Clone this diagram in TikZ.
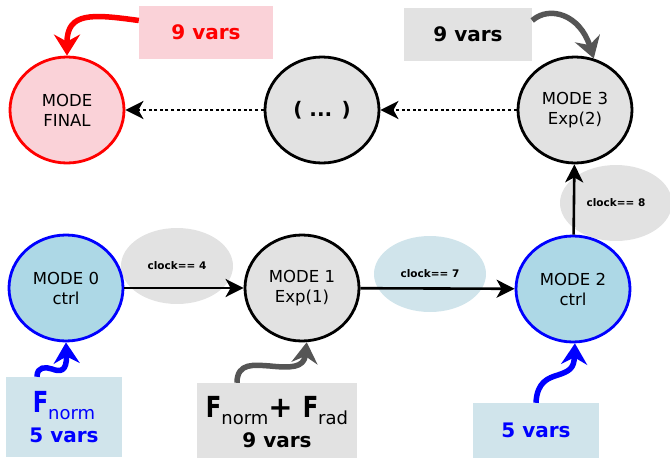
\documentclass[tikz,border=0pt]{standalone}
\usepackage{graphicx}
\usepackage{fontspec}
\setmainfont{DejaVu Sans}
\usetikzlibrary{arrows.meta,shapes.geometric}

\definecolor{ctrlblue}{RGB}{173,216,230}
\definecolor{paleblue}{RGB}{208,228,235}
\definecolor{modegray}{RGB}{226,226,226}
\definecolor{finalpink}{RGB}{250,210,216}
\definecolor{feedgray}{RGB}{85,85,85}

% F con subindice
\newcommand{\Fvar}[1]{{\fontsize{29}{29}\selectfont\scalebox{0.78}[1]{F}}\raisebox{-7pt}{\fontsize{18}{18}\selectfont\mdseries #1}}

\begin{document}
\begin{tikzpicture}[x=1pt, y=-1pt, line join=round]
  \useasboundingbox (0,0) rectangle (670,458);

  % Estilos
  \tikzset{
    mode/.style={ellipse, draw=black, fill=modegray, line width=2.8pt,
      minimum width=114pt, minimum height=106pt, inner sep=0pt,
      align=center, font=\fontsize{16.5}{20}\selectfont},
    modectrl/.style={mode, draw=blue, fill=ctrlblue},
    modefinal/.style={mode, draw=red, fill=finalpink},
    guard/.style={ellipse, minimum width=112pt, minimum height=76pt,
      inner sep=0pt, font=\bfseries\fontsize{10.5}{12}\selectfont},
    varsbox/.style={rectangle, inner sep=0pt, align=center,
      font=\bfseries\fontsize{20}{30}\selectfont},
    trans/.style={line width=2.6pt, -{Stealth[length=18pt,width=18pt,inset=5pt]}},
    skip/.style={trans, dash pattern=on 3pt off 2.6pt},
    feed/.style={line width=5.5pt, -{Stealth[length=21pt,width=26pt,inset=7pt]}}
  }

  % Guardas de las transiciones
  \node[guard, fill=modegray] (g4) at (177,266) {clock== 4};
  \node[guard, fill=paleblue] (g7) at (430,274) {clock== 7};
  \node[guard, fill=modegray] (g8) at (616,203) {clock== 8};

  % Modos
  \node[modectrl] (m0) at (66,288) {MODE 0\\ctrl};
  \node[mode] (m1) at (302,288) {MODE 1\\Exp(1)};
  \node[modectrl] (m2) at (573,289) {MODE 2\\ctrl};
  \node[mode] (m3) at (575,110) {MODE 3\\Exp(2)};
  \node[mode, font=\bfseries\fontsize{20}{24}\selectfont] (dots) at (322,110) {( ... )};
  \node[modefinal] (mf) at (67,110) {MODE\\FINAL};

  % Cajas de variables
  \node[varsbox, fill=finalpink, text=red, minimum width=134pt, minimum height=53pt] (v9red) at (206,32.5) {9 vars};
  \node[varsbox, fill=modegray, minimum width=128pt, minimum height=53pt] (v9gray) at (468,34.5) {9 vars};
  \node[varsbox, fill=paleblue, text=blue, minimum width=116pt, minimum height=80pt] (v5left) at (64,417) {\Fvar{norm}\\5 vars};
  \node[varsbox, fill=modegray, minimum width=160pt, minimum height=78pt] (v9low) at (277,422) {\Fvar{norm}{\fontsize{29}{29}\selectfont+ }\Fvar{rad}\\9 vars};
  \node[varsbox, fill=paleblue, text=blue, minimum width=126pt, minimum height=55pt] (v5right) at (536,430.5) {5 vars};

  % Transiciones
  \draw[trans] (m0) -- (m1);
  \draw[trans] (m1) -- (m2);
  \draw[trans] (m2) -- (m3);
  \draw[skip] (m3) -- (dots);
  \draw[skip] (dots) -- (mf);

  % Entradas de variables
  \draw[feed, red] ([yshift=12pt]v9red.west) .. controls (92,14) and (67,12) .. (mf.north);
  \draw[feed, feedgray] ([yshift=14pt]v9gray.east) .. controls (550,5) and (580,15) .. (m3.70);
  \draw[feed, blue] ([xshift=-27pt]v5left.north) .. controls (37,366) and (46,367) .. (52,369)
    .. controls (60,372) and (67,372) .. (m0.south);
  \draw[feed, feedgray] ([xshift=-40pt]v9low.north) .. controls (237,362) and (255,365) .. (270,366)
    .. controls (290,368) and (304,368) .. (m1.-85);
  \draw[feed, blue] (v5right.north) .. controls (537,382) and (548,378) .. (558,375)
    .. controls (570,371) and (574,368) .. (m2.-88);

\end{tikzpicture}
\end{document}
